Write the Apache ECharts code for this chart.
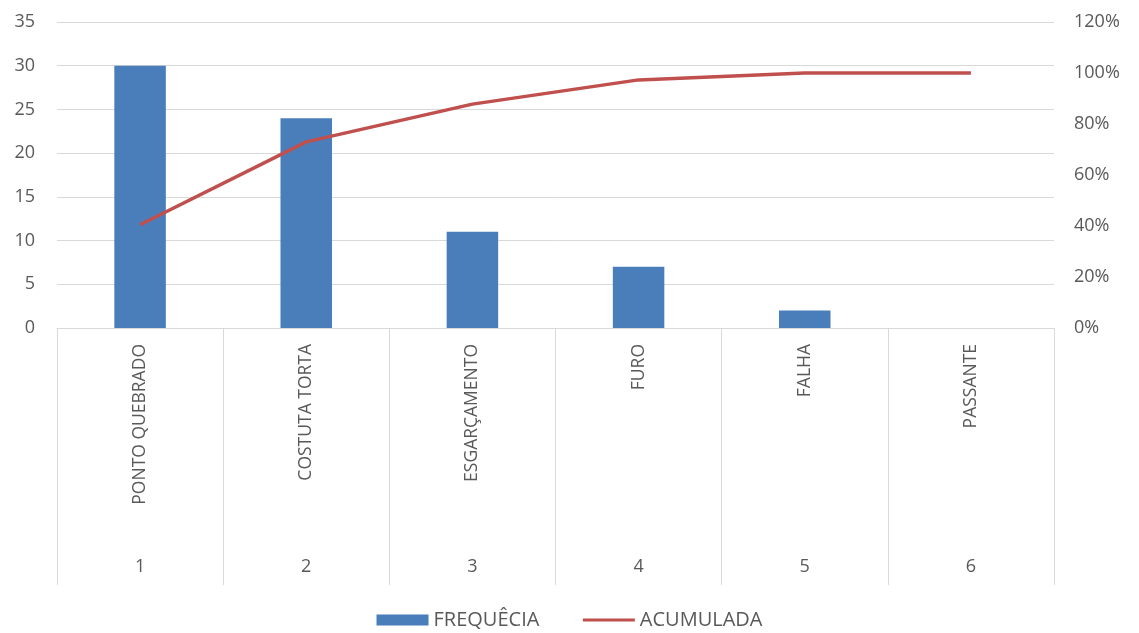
<!DOCTYPE html>
<html lang="pt">
<head>
  <meta charset="UTF-8">
  <title>Pareto</title>
  <style>
    html, body { margin: 0; padding: 0; background: #fff; }
    #chart { width: 1139px; height: 633px; }
  </style>
</head>
<body>
  <div id="chart"></div>
  <script src="https://cdn.jsdelivr.net/npm/echarts@6/dist/echarts.min.js"></script>
  <script>
    // categorias e valores
    var categorias = ['PONTO QUEBRADO', 'COSTUTA TORTA', 'ESGARÇAMENTO', 'FURO', 'FALHA', 'PASSANTE'];
    var numeros = ['1', '2', '3', '4', '5', '6'];
    var frequencia = [30, 24, 11, 7, 2, 0];
    var acumulada = [40.5, 73.0, 87.8, 97.3, 100, 100];

    var cinza = '#595959';
    var fonte = '"Open Sans", "Liberation Sans", sans-serif';

    var myChart = echarts.init(document.getElementById('chart'));
    var option = {
      animation: false,
      textStyle: { fontFamily: fonte },
      grid: { left: 57, right: 85, top: 22, bottom: 305 },
      legend: {
        bottom: -2,
        left: 'center',
        itemGap: 42,
        itemWidth: 52,
        itemHeight: 11,
        textStyle: { color: cinza, fontSize: 20, fontFamily: fonte },
        data: [
          { name: 'FREQUÊCIA', icon: 'rect' },
          { name: 'ACUMULADA', itemStyle: { opacity: 0 }, lineStyle: { width: 3 } }
        ]
      },
      xAxis: [{
        type: 'category',
        data: categorias,
        axisLine: { lineStyle: { color: '#d9d9d9' } },
        axisTick: { show: true, length: 257, interval: 0, lineStyle: { color: '#d9d9d9' } },
        axisLabel: { rotate: 90, margin: 16, interval: 0, color: cinza, fontSize: 17.5, fontFamily: fonte }
      }, {
        type: 'category',
        data: numeros,
        position: 'bottom',
        offset: 222,
        axisLine: { show: false },
        axisTick: { show: false },
        axisLabel: { margin: 8, interval: 0, color: cinza, fontSize: 18, fontFamily: fonte }
      }],
      yAxis: [{
        type: 'value',
        min: 0, max: 35, interval: 5,
        axisLine: { show: false },
        axisTick: { show: false },
        splitLine: { lineStyle: { color: '#d9d9d9' } },
        axisLabel: { margin: 22, color: cinza, fontSize: 18, fontFamily: fonte }
      }, {
        type: 'value',
        min: 0, max: 120, interval: 20,
        axisLine: { show: false },
        axisTick: { show: false },
        splitLine: { show: false },
        axisLabel: { margin: 20, formatter: '{value}%', color: cinza, fontSize: 18, fontFamily: fonte }
      }],
      series: [{
        name: 'FREQUÊCIA',
        type: 'bar',
        xAxisIndex: 0,
        yAxisIndex: 0,
        barWidth: '31%',
        itemStyle: { color: '#4a7ebb' },
        data: frequencia
      }, {
        name: 'ACUMULADA',
        type: 'line',
        xAxisIndex: 0,
        yAxisIndex: 1,
        symbol: 'none',
        lineStyle: { color: '#c0504d', width: 3.5 },
        itemStyle: { color: '#c0504d' },
        data: acumulada
      }]
    };
    myChart.setOption(option);
  </script>
</body>
</html>
